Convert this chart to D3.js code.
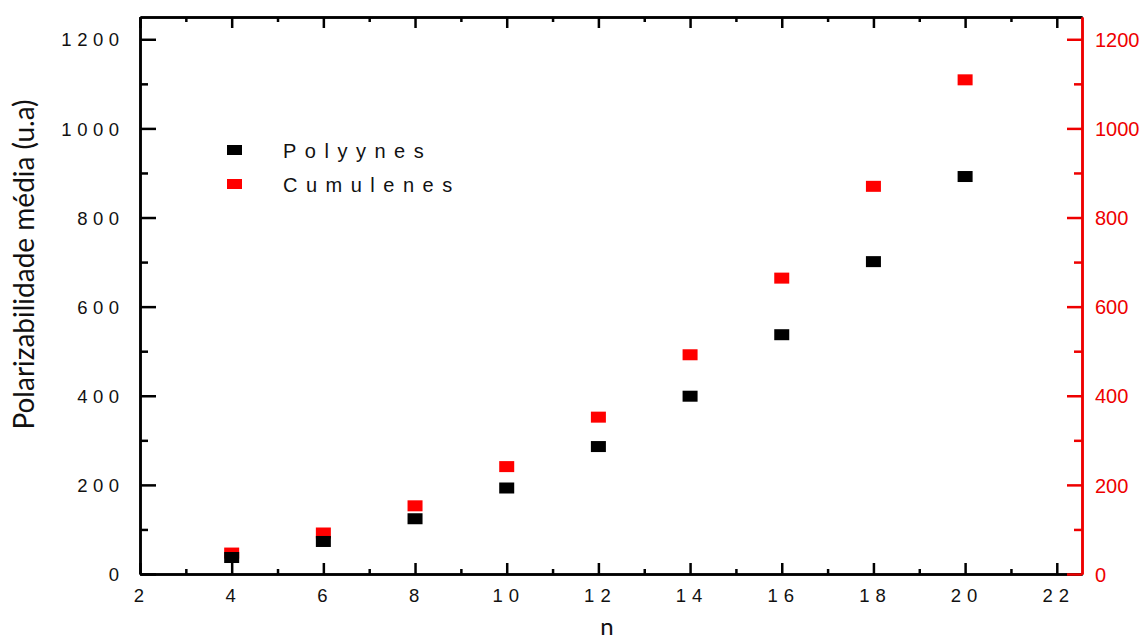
<!DOCTYPE html>
<html>
<head>
<meta charset="utf-8">
<script src="https://cdn.jsdelivr.net/npm/d3@7"></script>
<style>
  html, body { margin: 0; padding: 0; background: #fff; }
  svg { display: block; }
</style>
</head>
<body>
<svg id="chart" width="1143" height="641"></svg>
<script>
// Mean polarizability of carbon chains against chain length n
const nValues      = [4, 6, 8, 10, 12, 14, 16, 18, 20];
const polyynes     = [37, 73, 124, 193, 286, 399, 537, 701, 892];
const cumulenes    = [47, 92, 153, 241, 352, 492, 664, 870, 1109];
const xMajorTicks  = [2, 4, 6, 8, 10, 12, 14, 16, 18, 20, 22];
const xMinorTicks  = [3, 5, 7, 9, 11, 13, 15, 17, 19, 21];
const yMajorTicks  = [0, 200, 400, 600, 800, 1000, 1200];
const yMinorTicks  = [100, 300, 500, 700, 900, 1100];
const seriesNames  = ["Polyynes", "Cumulenes"];

const RED = "#ee0000";
const MARK_RED = "#ff0000";

const svg = d3.select("#chart");
const plotLeft = 140, plotRight = 1082, plotTop = 17, plotBottom = 574;

const x = d3.scaleLinear().domain([2, 22.55]).range([plotLeft, plotRight]);
const y = d3.scaleLinear().domain([0, 1250]).range([plotBottom, plotTop]);

function styleAxis(g, color) {
  g.select(".domain").attr("stroke", color).attr("stroke-width", 2.5);
  g.selectAll(".tick line").attr("stroke", color).attr("stroke-width", 2.5);
}

// bottom axis: labels and inward major ticks
const gx = svg.append("g").attr("transform", `translate(0,${plotBottom})`)
  .call(d3.axisBottom(x).tickValues(xMajorTicks).tickSizeInner(-11).tickSizeOuter(0).tickPadding(15).tickFormat(d3.format("d")));
styleAxis(gx, "#000");
gx.selectAll("text")
  .attr("font-family", "'Liberation Sans', Arial, sans-serif")
  .attr("font-size", 18.5).attr("fill", "#111")
  .style("letter-spacing", "6px").attr("dx", 1.5);
svg.append("g").attr("transform", `translate(0,${plotBottom})`)
  .call(d3.axisBottom(x).tickValues(xMinorTicks).tickSizeInner(-5).tickSizeOuter(0).tickFormat(""))
  .call(g => styleAxis(g, "#000"));

// top frame with ticks
svg.append("g").attr("transform", `translate(0,${plotTop})`)
  .call(d3.axisTop(x).tickValues(xMajorTicks).tickSizeInner(-11).tickSizeOuter(0).tickFormat(""))
  .call(g => styleAxis(g, "#000"));
svg.append("g").attr("transform", `translate(0,${plotTop})`)
  .call(d3.axisTop(x).tickValues(xMinorTicks).tickSizeInner(-5).tickSizeOuter(0).tickFormat(""))
  .call(g => styleAxis(g, "#000"));

// left axis
const gy = svg.append("g").attr("transform", `translate(${plotLeft},0)`)
  .call(d3.axisLeft(y).tickValues(yMajorTicks).tickSizeInner(-16).tickSizeOuter(0).tickPadding(15.5).tickFormat(d3.format("d")));
styleAxis(gy, "#000");
gy.selectAll("text")
  .attr("font-family", "'Liberation Sans', Arial, sans-serif")
  .attr("font-size", 18.5).attr("fill", "#111").attr("dy", "0.358em")
  .style("letter-spacing", "5.5px");
svg.append("g").attr("transform", `translate(${plotLeft},0)`)
  .call(d3.axisLeft(y).tickValues(yMinorTicks).tickSizeInner(-8).tickSizeOuter(0).tickFormat(""))
  .call(g => styleAxis(g, "#000"));

// right axis in red
const gr = svg.append("g").attr("transform", `translate(${plotRight},0)`)
  .call(d3.axisRight(y).tickValues(yMajorTicks).tickSizeInner(-15).tickSizeOuter(0).tickPadding(13).tickFormat(d3.format("d")));
styleAxis(gr, RED);
gr.selectAll("text")
  .attr("font-family", "'Liberation Sans', Arial, sans-serif")
  .attr("font-size", 20).attr("fill", RED).attr("dy", "0.358em");
svg.append("g").attr("transform", `translate(${plotRight},0)`)
  .call(d3.axisRight(y).tickValues(yMinorTicks).tickSizeInner(-8).tickSizeOuter(0).tickFormat(""))
  .call(g => styleAxis(g, RED));

// axis titles
svg.append("text")
  .attr("transform", `translate(34,${(y(0) + y(1250)) / 2 - 31}) rotate(-90)`)
  .attr("text-anchor", "middle")
  .attr("font-family", "Lato, 'Open Sans', sans-serif")
  .attr("font-size", 28).attr("fill", "#111")
  .text("Polarizabilidade média (u.a)");
svg.append("text")
  .attr("x", 607).attr("y", 635)
  .attr("text-anchor", "middle")
  .attr("font-family", "Lato, 'Open Sans', sans-serif")
  .attr("font-size", 24).attr("fill", "#111")
  .text("n");

// markers: cumulenes first so polyynes sit on top
const MW = 15, MH = 11;
svg.append("g").selectAll("rect")
  .data(nValues.map((n, i) => ({ n, v: cumulenes[i] })))
  .join("rect")
  .attr("x", d => x(d.n) - MW / 2).attr("y", d => y(d.v) - MH / 2)
  .attr("width", MW).attr("height", MH).attr("fill", MARK_RED);
svg.append("g").selectAll("rect")
  .data(nValues.map((n, i) => ({ n, v: polyynes[i] })))
  .join("rect")
  .attr("x", d => x(d.n) - MW / 2).attr("y", d => y(d.v) - MH / 2)
  .attr("width", MW).attr("height", MH).attr("fill", "#000");

// legend
const legend = svg.append("g");
const legendColors = ["#000", MARK_RED];
const legendY = [150, 184];
seriesNames.forEach((name, i) => {
  legend.append("rect")
    .attr("x", 227).attr("y", legendY[i] - 5)
    .attr("width", 15).attr("height", 10)
    .attr("fill", legendColors[i]);
  legend.append("text")
    .attr("x", 283).attr("y", legendY[i] + 7.5)
    .attr("font-family", "'Liberation Sans', Arial, sans-serif")
    .attr("font-size", 20).attr("fill", "#111")
    .style("letter-spacing", "8.5px")
    .text(name);
});
</script>
</body>
</html>
